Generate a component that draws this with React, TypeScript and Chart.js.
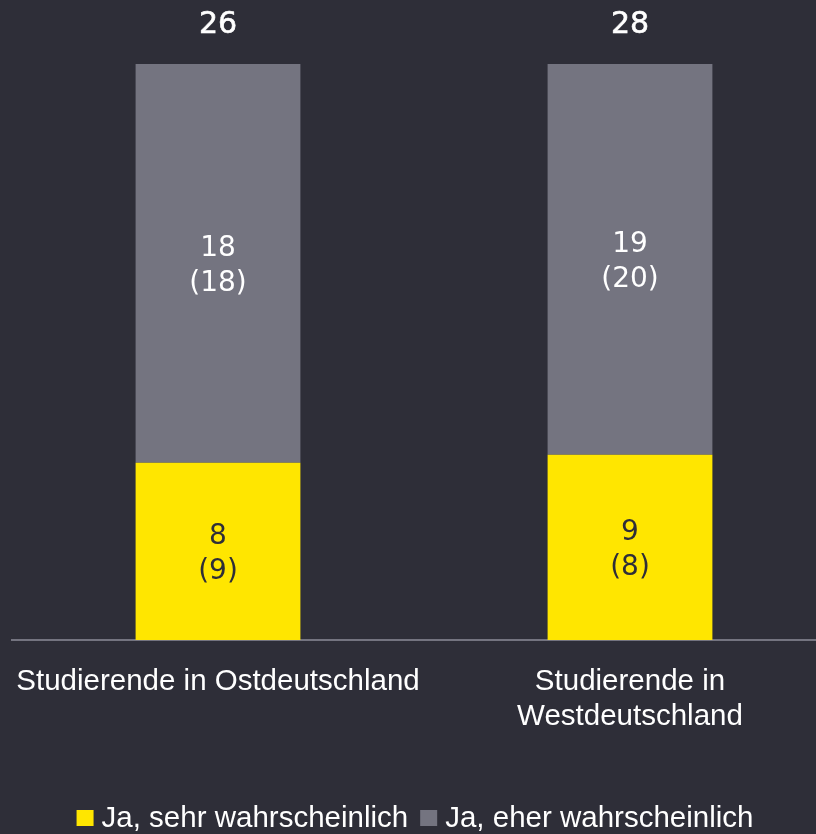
import React, { useEffect, useRef } from "react";
import { Chart, registerables } from "chart.js";

Chart.register(...registerables);

const categories: (string | string[])[] = [
  "Studierende in Ostdeutschland",
  ["Studierende in", "Westdeutschland"],
];
const seriesNames = ["Ja, sehr wahrscheinlich", "Ja, eher wahrscheinlich"];
const sehrValues = [8, 9];
const sehrPrevious = [9, 8];
const eherValues = [18, 19];
const eherPrevious = [18, 20];
const totals = [26, 28];

const BG = "#2e2e38";
const YELLOW = "#ffe600";
const GREY = "#747480";
const TEXT = "#ffffff";

const previous = [sehrPrevious, eherPrevious];
const raw = [sehrValues, eherValues];

const labelPlugin = {
  id: "eyLabels",
  afterDatasetsDraw(chart: any) {
    const ctx = chart.ctx;
    ctx.save();
    ctx.textAlign = "center";
    ctx.textBaseline = "middle";
    chart.data.datasets.forEach((ds: any, di: number) => {
      const meta = chart.getDatasetMeta(di);
      meta.data.forEach((el: any, i: number) => {
        const cy = (el.y + el.base) / 2;
        ctx.fillStyle = di === 0 ? BG : TEXT;
        ctx.font = "28px 'DejaVu Sans'";
        ctx.fillText(String(raw[di][i]), el.x, cy - 15);
        ctx.fillText("(" + previous[di][i] + ")", el.x, cy + 20);
      });
    });
    const last = chart.getDatasetMeta(chart.data.datasets.length - 1);
    last.data.forEach((el: any, i: number) => {
      ctx.fillStyle = TEXT;
      ctx.strokeStyle = TEXT;
      ctx.lineWidth = 0.6;
      ctx.font = "30px 'DejaVu Sans'";
      ctx.fillText(String(totals[i]), el.x, el.y - 39);
      ctx.strokeText(String(totals[i]), el.x, el.y - 39);
    });
    ctx.restore();
  },
  afterDraw(chart: any) {
    const ctx = chart.ctx;
    ctx.save();
    ctx.font = "29.5px 'Liberation Sans'";
    ctx.textBaseline = "middle";
    ctx.textAlign = "left";
    const box = 17;
    const gapText = 8;
    const gapItem = 12;
    const widths = seriesNames.map((n) => ctx.measureText(n).width);
    const total =
      widths.reduce((a, w) => a + box + gapText + w, 0) + gapItem * (seriesNames.length - 1);
    let x = 415 - total / 2;
    const y = 818;
    seriesNames.forEach((n, i) => {
      ctx.fillStyle = chart.data.datasets[i].backgroundColor;
      ctx.fillRect(x, y - 8, box, 16);
      ctx.fillStyle = TEXT;
      ctx.fillText(n, x + box + gapText, y + 1);
      x += box + gapText + widths[i] + gapItem;
    });
    ctx.restore();
  },
};

export default function App() {
  const ref = useRef<HTMLCanvasElement>(null);
  useEffect(() => {
    document.body.style.background = BG;
    const canvas = ref.current!;
    const chart = new Chart(canvas, {
      type: "bar",
      data: {
        labels: categories as any,
        datasets: [
          {
            label: seriesNames[0],
            data: sehrValues.map((v, i) => v / totals[i]),
            backgroundColor: YELLOW,
            borderWidth: 0,
          },
          {
            label: seriesNames[1],
            data: eherValues.map((v, i) => v / totals[i]),
            backgroundColor: GREY,
            borderWidth: 0,
          },
        ],
      },
      options: {
        responsive: false,
        animation: false,
        layout: { padding: { left: 12, right: 4, top: 64, bottom: 0 } },
        plugins: { legend: { display: false }, tooltip: { enabled: false } },
        datasets: { bar: { categoryPercentage: 1, barPercentage: 0.4 } },
        scales: {
          x: {
            stacked: true,
            grid: { display: false },
            border: { display: true, color: GREY, width: 2 },
            ticks: {
              color: TEXT,
              font: { family: "'Liberation Sans'", size: 29.5 },
              padding: 16,
              maxRotation: 0,
              autoSkip: false,
            },
            afterFit: (scale: any) => {
              scale.height = 194;
              scale.paddingLeft = 0;
              scale.paddingRight = 0;
            },
          },
          y: {
            stacked: true,
            display: false,
            min: 0,
            max: 1,
          },
        },
      },
      plugins: [labelPlugin],
    });
    return () => chart.destroy();
  }, []);
  return (
    <div
      style={{
        position: "absolute",
        left: 0,
        top: 0,
        width: 816,
        height: 834,
        overflow: "hidden",
        background: BG,
      }}
    >
      <canvas ref={ref} width={840} height={834} style={{ display: "block" }} />
    </div>
  );
}
